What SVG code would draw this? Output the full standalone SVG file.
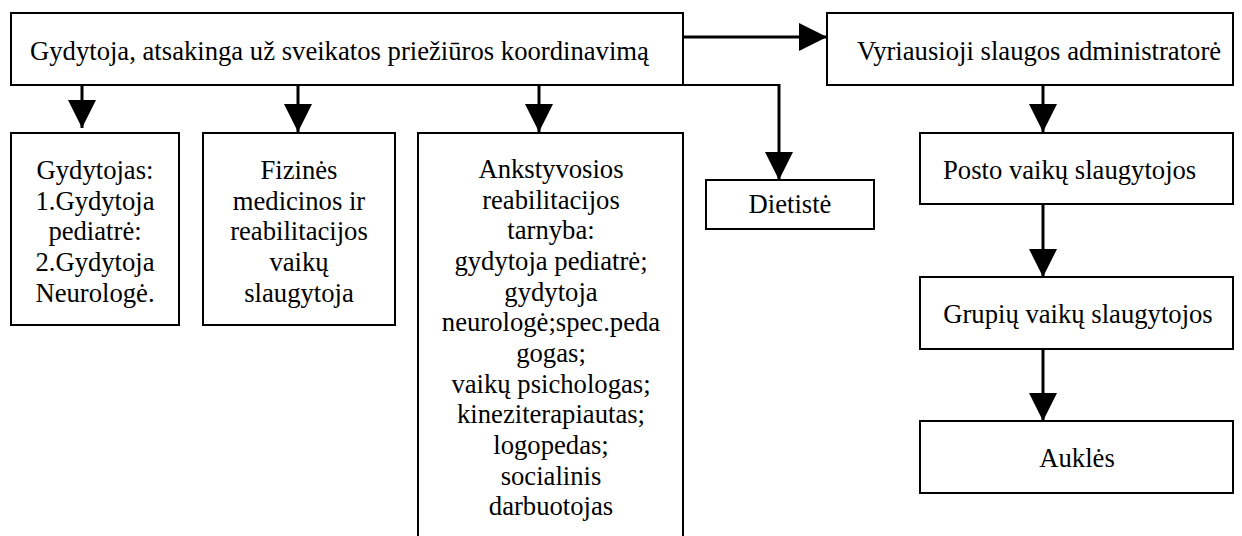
<svg xmlns="http://www.w3.org/2000/svg" width="1242" height="536" viewBox="0 0 1242 536">
<style>
.box{fill:#fff;stroke:#000;stroke-width:2}
.t{font-family:"Liberation Serif","Times New Roman",serif;font-size:26.67px;fill:#000}
.m{text-anchor:middle}
.c{fill:none;stroke:#000;stroke-width:3}
.thin{fill:none;stroke:#000;stroke-width:2}
</style>
<defs>
<marker id="ah" viewBox="0 0 28 28" refX="28" refY="14" markerWidth="28" markerHeight="28" markerUnits="userSpaceOnUse" orient="auto">
<path d="M0,0 L28,14 L0,28 z" fill="#000"/>
</marker>
</defs>
<rect width="1242" height="536" fill="#fff"/>
<g id="connectors">
<line class="c" x1="684" y1="37" x2="827" y2="37" marker-end="url(#ah)"/>
<line class="c" x1="82" y1="85" x2="82" y2="128" marker-end="url(#ah)"/>
<line class="c" x1="298" y1="85" x2="298" y2="132" marker-end="url(#ah)"/>
<line class="c" x1="539" y1="85" x2="539" y2="132" marker-end="url(#ah)"/>
<line class="thin" x1="683" y1="85" x2="780" y2="85"/>
<line class="c" x1="779" y1="84" x2="779" y2="180" marker-end="url(#ah)"/>
<line class="c" x1="1043" y1="85" x2="1043" y2="132" marker-end="url(#ah)"/>
<line class="c" x1="1043" y1="204" x2="1043" y2="277" marker-end="url(#ah)"/>
<line class="c" x1="1043" y1="349" x2="1043" y2="421" marker-end="url(#ah)"/>
</g>
<g id="n-top">
<rect class="box" x="11" y="13" width="672" height="72"/>
<text class="t" x="30" y="60">Gydytoja, atsakinga už sveikatos priežiūros koordinavimą</text>
</g>
<g id="n-vyr">
<rect class="box" x="827" y="13" width="406" height="72"/>
<text class="t m" x="1039" y="60">Vyriausioji slaugos administratorė</text>
</g>
<g id="n-gyd">
<rect class="box" x="11" y="133" width="168" height="192"/>
<text class="t m" x="95" y="179">Gydytojas:</text>
<text class="t m" x="95" y="209.7">1.Gydytoja</text>
<text class="t m" x="95" y="240.3">pediatrė:</text>
<text class="t m" x="95" y="271">2.Gydytoja</text>
<text class="t m" x="95" y="301.7">Neurologė.</text>
</g>
<g id="n-fiz">
<rect class="box" x="203" y="133" width="192" height="192"/>
<text class="t m" x="299" y="179">Fizinės</text>
<text class="t m" x="299" y="209.7">medicinos ir</text>
<text class="t m" x="299" y="240.3">reabilitacijos</text>
<text class="t m" x="299" y="271">vaikų</text>
<text class="t m" x="299" y="301.7">slaugytoja</text>
</g>
<g id="n-ank">
<rect class="box" x="418" y="133" width="265" height="420"/>
<text class="t m" x="551" y="178">Ankstyvosios</text>
<text class="t m" x="551" y="208.7">reabilitacijos</text>
<text class="t m" x="551" y="239.3">tarnyba:</text>
<text class="t m" x="551" y="270">gydytoja pediatrė;</text>
<text class="t m" x="551" y="300.7">gydytoja</text>
<text class="t m" x="551" y="331.3">neurologė;spec.peda</text>
<text class="t m" x="551" y="362">gogas;</text>
<text class="t m" x="551" y="392.7">vaikų psichologas;</text>
<text class="t m" x="551" y="423.3">kineziterapiautas;</text>
<text class="t m" x="551" y="454">logopedas;</text>
<text class="t m" x="551" y="484.7">socialinis</text>
<text class="t m" x="551" y="515.3">darbuotojas</text>
</g>
<g id="n-diet">
<rect class="box" x="706" y="180" width="168" height="49"/>
<text class="t m" x="790" y="213">Dietistė</text>
</g>
<g id="n-posto">
<rect class="box" x="920" y="133" width="313" height="71"/>
<text class="t" x="943" y="179">Posto vaikų slaugytojos</text>
</g>
<g id="n-grup">
<rect class="box" x="920" y="277" width="313" height="72"/>
<text class="t m" x="1078" y="323">Grupių vaikų slaugytojos</text>
</g>
<g id="n-aukles">
<rect class="box" x="920" y="421" width="313" height="72"/>
<text class="t m" x="1077" y="467">Auklės</text>
</g>
</svg>
